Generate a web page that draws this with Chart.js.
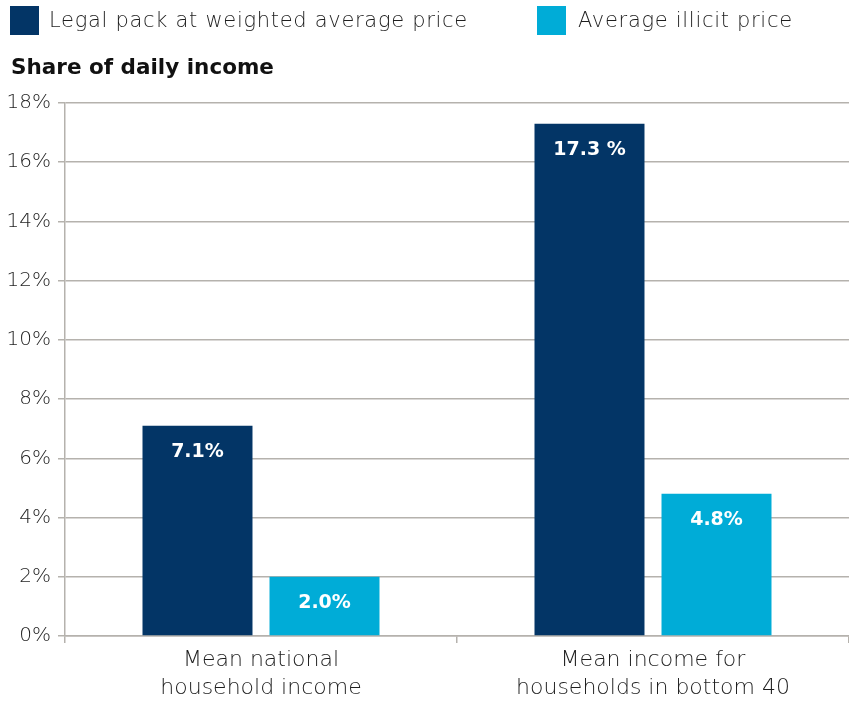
<!DOCTYPE html>
<html>
<head>
<meta charset="utf-8">
<script src="https://cdn.jsdelivr.net/npm/chart.js@4"></script>
<style>
  body { margin: 0; background: #fff; font-family: "DejaVu Sans", sans-serif; }
  #wrap { position: relative; width: 849px; height: 701px; }
  .box { position: absolute; top: 6px; width: 29px; height: 29px; }
  .legtxt { position: absolute; top: 5px; font-size: 21px; color: #1e1e1e; font-weight: 200; line-height: 30px; letter-spacing: 0.7px; white-space: nowrap; }
  #title { position: absolute; left: 11px; top: 54px; font-size: 21.5px; font-weight: 700; color: #111; white-space: nowrap; }
</style>
</head>
<body>
<div id="wrap">
  <canvas id="chart" width="849" height="701"></canvas>
  <div class="box" style="left:10px;background:#033566"></div>
  <div class="legtxt" style="left:49px">Legal pack at weighted average price</div>
  <div class="box" style="left:537px;background:#00acd7"></div>
  <div class="legtxt" style="left:578px">Average illicit price</div>
  <div id="title">Share of daily income</div>
</div>
<script>
// Data
const categories = [["Mean national", "household income"], ["Mean income for", "households in bottom 40"]];
const seriesNames = ["Legal pack at weighted average price", "Average illicit price"];
const legalValues = [7.1, 17.3];
const illicitValues = [2.0, 4.8];
const legalLabels = ["7.1%", "17.3 %"];
const illicitLabels = ["2.0%", "4.8%"];

const navy = "#033566";
const cyan = "#00acd7";
const gridColor = "#b5b2ad";
const fontFamily = "'DejaVu Sans', sans-serif";

// white value labels inside the bars
const barLabels = {
    id: "barLabels",
    afterDatasetsDraw(chart) {
        const ctx = chart.ctx;
        const texts = [legalLabels, illicitLabels];
        ctx.save();
        ctx.fillStyle = "#fff";
        ctx.font = "bold 19px " + fontFamily;
        ctx.textAlign = "center";
        ctx.textBaseline = "middle";
        chart.data.datasets.forEach((ds, i) => {
            chart.getDatasetMeta(i).data.forEach((bar, j) => {
                ctx.fillText(texts[i][j], bar.x, bar.y + 26);
            });
        });
        ctx.restore();
    }
};

const ctx = document.getElementById("chart").getContext("2d");
const chart = new Chart(ctx, {
    type: "bar",
    data: {
        labels: categories,
        datasets: [
            { label: seriesNames[0], data: legalValues, backgroundColor: navy },
            { label: seriesNames[1], data: illicitValues, backgroundColor: cyan }
        ]
    },
    options: {
        responsive: false,
        animation: false,
        layout: { padding: { top: 103, left: 0, right: 0, bottom: 0 } },
        datasets: { bar: { categoryPercentage: 0.648, barPercentage: 0.866 } },
        plugins: {
            legend: { display: false },
            tooltip: { enabled: false }
        },
        scales: {
            y: {
                min: 0,
                max: 18,
                afterFit(scale) { scale.width = 65; },
                ticks: {
                    stepSize: 2,
                    padding: 7,
                    color: "#1e1e1e",
                    font: { family: fontFamily, size: 20, weight: 200 },
                    callback: v => v + "%"
                },
                grid: { color: gridColor, lineWidth: 1.5, tickLength: 7 },
                border: { color: gridColor, width: 1.5 }
            },
            x: {
                afterFit(scale) { scale.height = 65; },
                ticks: {
                    color: "#1e1e1e",
                    padding: 3,
                    font: { family: fontFamily, size: 22, weight: 200, lineHeight: "28px" }
                },
                grid: { offset: true, drawOnChartArea: false, color: gridColor, lineWidth: 1.5, tickLength: 7 },
                border: { color: gridColor, width: 1.5 }
            }
        }
    },
    plugins: [barLabels]
});
</script>
</body>
</html>
